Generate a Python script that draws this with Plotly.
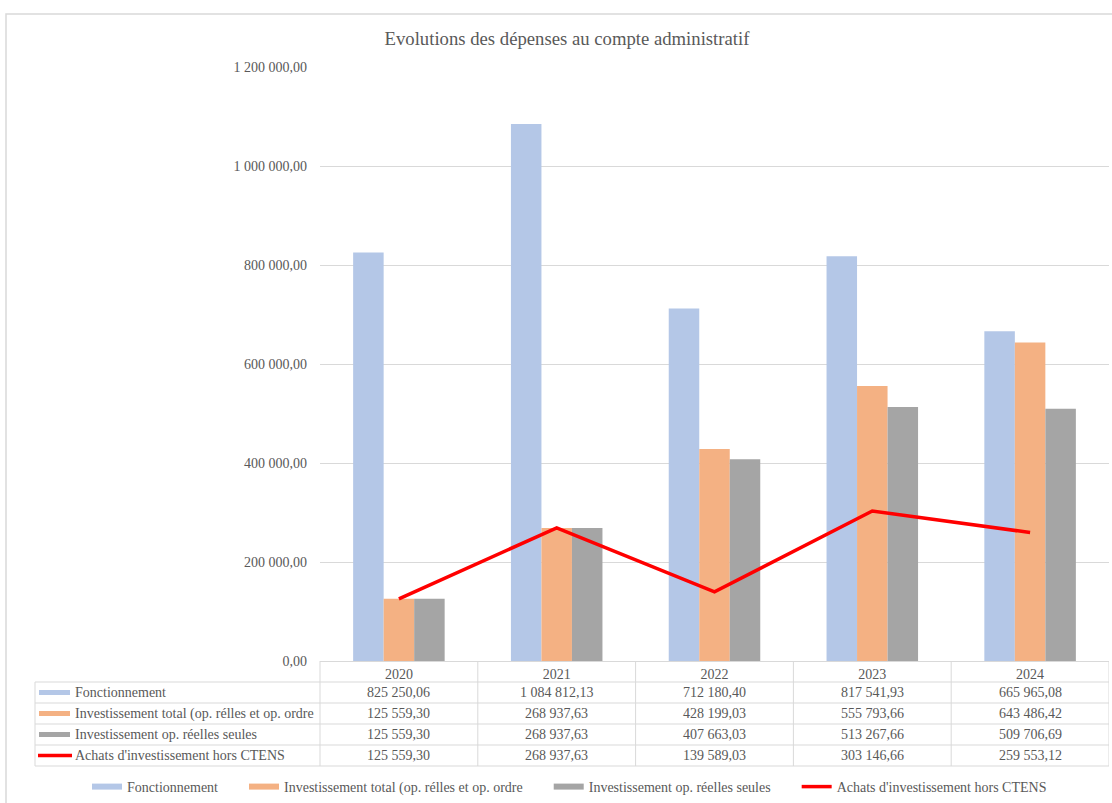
import plotly.graph_objects as go

# ---------------- data ----------------
years = ["2020", "2021", "2022", "2023", "2024"]
fonctionnement = [825250.06, 1084812.13, 712180.40, 817541.93, 665965.08]
invest_total = [125559.30, 268937.63, 428199.03, 555793.66, 643486.42]
invest_reelles = [125559.30, 268937.63, 407663.03, 513267.66, 509706.69]
achats_hors_ctens = [125559.30, 268937.63, 139589.03, 303146.66, 259553.12]
series_names = [
    "Fonctionnement",
    "Investissement total (op. rélles et op. ordre",
    "Investissement op. réelles seules",
    "Achats d'investissement hors CTENS",
]
y_tick_values = [0, 200000, 400000, 600000, 800000, 1000000, 1200000]
title_text = "Evolutions des dépenses au compte administratif"

# ---------------- styles ----------------
colors = ["#b4c7e7", "#f4b183", "#a5a5a5", "#ff0000"]
FONT = "Liberation Serif"
TXT = "#595959"
GRID = "#d9d9d9"

W, H = 1112, 803
L, R, T, B = 320, 3, 67, 142
PW, PH = W - L - R, H - T - B


def px_x(px):
    return (px - L) / PW


def px_y(py):
    return (H - B - py) / PH


def fmt(v):
    return f"{v:,.2f}".replace(",", " ").replace(".", ",")


series_values = [fonctionnement, invest_total, invest_reelles, achats_hors_ctens]

fig = go.Figure()
for name, vals, col in zip(series_names[:3], series_values[:3], colors[:3]):
    fig.add_trace(go.Bar(x=years, y=vals, name=name, marker=dict(color=col, line=dict(width=0)),
                         showlegend=False, legendgroup=name))
fig.add_trace(go.Scatter(x=years, y=achats_hors_ctens, mode="lines", name=series_names[3],
                         line=dict(color=colors[3], width=3.5), showlegend=False, legendgroup=series_names[3]))

# legend entries (flat swatches like the reference)
NB = "\u00a0" * 6
for i, (name, col) in enumerate(zip(series_names, colors)):
    fig.add_trace(go.Scatter(x=[None], y=[None], mode="lines", name=name + (NB if i < 3 else ""),
                             line=dict(color=col, width=6 if i < 3 else 3.5),
                             legendgroup=name, hoverinfo="skip"))

shapes = []
annotations = []

# outer chart border
shapes.append(dict(type="rect", xref="paper", yref="paper", x0=px_x(6), x1=px_x(1140),
                   y0=px_y(14), y1=px_y(840), line=dict(color=GRID, width=1.5), layer="below"))

# data table grid
row_top = 682
row_h = 21
for k in range(5):
    y = px_y(row_top + k * row_h)
    shapes.append(dict(type="line", xref="paper", yref="paper", x0=px_x(35), x1=1, y0=y, y1=y,
                       line=dict(color=GRID, width=1)))
table_bottom = px_y(row_top + 4 * row_h)
shapes.append(dict(type="line", xref="paper", yref="paper", x0=px_x(35), x1=px_x(35),
                   y0=px_y(row_top), y1=table_bottom, line=dict(color=GRID, width=1)))
shapes.append(dict(type="line", xref="paper", yref="paper", x0=0, x1=0,
                   y0=0, y1=table_bottom, line=dict(color=GRID, width=1)))
for i in range(len(years)):
    shapes.append(dict(type="line", xref="x", yref="paper", x0=i + 0.5, x1=i + 0.5,
                       y0=0, y1=table_bottom, line=dict(color=GRID, width=1)))

# table rows: legend keys, labels, values
for r, (name, vals, col) in enumerate(zip(series_names, series_values, colors)):
    yc = row_top + row_h * r + row_h / 2
    if r < 3:
        shapes.append(dict(type="rect", xref="paper", yref="paper", x0=px_x(39), x1=px_x(70),
                           y0=px_y(yc + 2.5), y1=px_y(yc - 2.5), fillcolor=col, line=dict(width=0)))
    else:
        shapes.append(dict(type="line", xref="paper", yref="paper", x0=px_x(38), x1=px_x(72),
                           y0=px_y(yc), y1=px_y(yc), line=dict(color=col, width=3.5)))
    annotations.append(dict(text=name, xref="paper", yref="paper", x=px_x(73), y=px_y(yc),
                            xanchor="left", yanchor="middle", showarrow=False,
                            font=dict(family=FONT, size=14, color=TXT)))
    for i, v in enumerate(vals):
        annotations.append(dict(text=fmt(v), xref="x", yref="paper", x=i, y=px_y(yc),
                                xanchor="center", yanchor="middle", showarrow=False,
                                font=dict(family=FONT, size=14, color=TXT)))

fig.update_layout(
    width=W, height=H,
    margin=dict(l=L, r=R, t=T, b=B, autoexpand=False),
    paper_bgcolor="white", plot_bgcolor="white",
    separators=", ",
    barmode="group", bargap=0.42, bargroupgap=0,
    title=dict(text=title_text, x=567 / W, xref="container", xanchor="center",
               y=1 - 38 / H, yanchor="middle",
               font=dict(family=FONT, size=18.7, color=TXT)),
    font=dict(family=FONT, size=14, color=TXT),
    xaxis=dict(type="category", range=[-0.5, 4.5], showline=True, linecolor=GRID, linewidth=1,
               showgrid=False, ticks="", tickfont=dict(family=FONT, size=14, color=TXT),
               ticklabelstandoff=0, fixedrange=True),
    yaxis=dict(range=[0, 1200000], tickvals=y_tick_values, tickformat=",.2f",
               showgrid=True, gridcolor=GRID, gridwidth=1, zeroline=False, showline=False,
               ticks="", ticklabelstandoff=12, tickfont=dict(family=FONT, size=14, color=TXT),
               fixedrange=True),
    legend=dict(orientation="h", x=px_x(87), xanchor="left", y=px_y(787), yanchor="middle",
                font=dict(family=FONT, size=14, color=TXT), itemwidth=30, bgcolor="rgba(0,0,0,0)"),
    shapes=shapes,
    annotations=annotations,
)

fig.write_html("out.html")
